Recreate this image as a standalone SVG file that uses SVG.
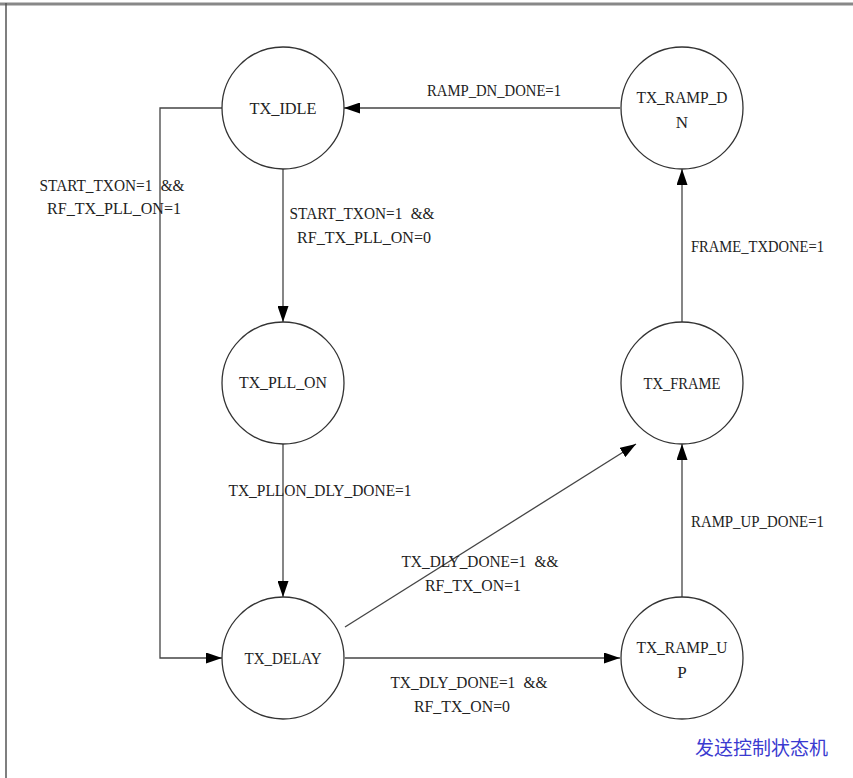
<svg xmlns="http://www.w3.org/2000/svg" width="853" height="778" viewBox="0 0 853 778">
<style>
.node circle{fill:#fff;stroke:#333;stroke-width:1.3}
.t{font-family:"Liberation Serif","DejaVu Serif",serif;font-size:17px;fill:#222}
.c{text-anchor:middle}
.ws{word-spacing:5px}
.edge{fill:none;stroke:#444;stroke-width:1.3}
.cap{font-family:"Noto Sans CJK SC","Noto Sans CJK JP",sans-serif;font-size:19px;fill:#3a3ad0}
</style>
<defs>
<marker id="ah" markerUnits="userSpaceOnUse" markerWidth="16" markerHeight="11" refX="16" refY="5.5" orient="auto">
<path d="M0,0 L16,5.5 L0,11 z" fill="#000"/>
</marker>
</defs>
<rect width="853" height="778" fill="#fff"/>
<line x1="0" y1="4" x2="853" y2="4" stroke="#888" stroke-width="3"/>
<line x1="6" y1="3" x2="6" y2="778" stroke="#555" stroke-width="1.5"/>
<g id="connectors">
<path class="edge" d="M620,108 L344,108" marker-end="url(#ah)"/>
<path class="edge" d="M283,169 L283,322" marker-end="url(#ah)"/>
<path class="edge" d="M222,108 L160,108 L160,658 L222,658" marker-end="url(#ah)"/>
<path class="edge" d="M283,444 L283,597" marker-end="url(#ah)"/>
<path class="edge" d="M345,627 L636,444" marker-end="url(#ah)"/>
<path class="edge" d="M345,658 L620,658" marker-end="url(#ah)"/>
<path class="edge" d="M682,597 L682,444" marker-end="url(#ah)"/>
<path class="edge" d="M682,322 L682,169" marker-end="url(#ah)"/>
<text class="t c" x="494" y="96" textLength="134" lengthAdjust="spacingAndGlyphs">RAMP_DN_DONE=1</text>
<text class="t c ws" x="362" y="219" textLength="145" lengthAdjust="spacingAndGlyphs">START_TXON=1 &amp;&amp;</text>
<text class="t c" x="364" y="243" textLength="134" lengthAdjust="spacingAndGlyphs">RF_TX_PLL_ON=0</text>
<text class="t c ws" x="112" y="191" textLength="145" lengthAdjust="spacingAndGlyphs">START_TXON=1 &amp;&amp;</text>
<text class="t c" x="114" y="214" textLength="134" lengthAdjust="spacingAndGlyphs">RF_TX_PLL_ON=1</text>
<text class="t c" x="320" y="496" textLength="183" lengthAdjust="spacingAndGlyphs">TX_PLLON_DLY_DONE=1</text>
<text class="t c ws" x="480" y="567" textLength="157" lengthAdjust="spacingAndGlyphs">TX_DLY_DONE=1 &amp;&amp;</text>
<text class="t c" x="473" y="591" textLength="96" lengthAdjust="spacingAndGlyphs">RF_TX_ON=1</text>
<text class="t c ws" x="469" y="688" textLength="157" lengthAdjust="spacingAndGlyphs">TX_DLY_DONE=1 &amp;&amp;</text>
<text class="t c" x="462" y="712" textLength="96" lengthAdjust="spacingAndGlyphs">RF_TX_ON=0</text>
<text class="t" x="691" y="252" textLength="133" lengthAdjust="spacingAndGlyphs">FRAME_TXDONE=1</text>
<text class="t" x="691" y="527" textLength="133" lengthAdjust="spacingAndGlyphs">RAMP_UP_DONE=1</text>
</g>
<g id="TX_IDLE" class="node"><circle cx="283" cy="108" r="61"/><text class="t c" x="283" y="114" textLength="67" lengthAdjust="spacingAndGlyphs">TX_IDLE</text></g>
<g id="TX_RAMP_DN" class="node"><circle cx="682" cy="108" r="61"/><text class="t c" x="682" y="103" textLength="91" lengthAdjust="spacingAndGlyphs">TX_RAMP_D</text><text class="t c" x="682" y="128">N</text></g>
<g id="TX_PLL_ON" class="node"><circle cx="283" cy="383" r="61"/><text class="t c" x="283" y="388" textLength="88" lengthAdjust="spacingAndGlyphs">TX_PLL_ON</text></g>
<g id="TX_FRAME" class="node"><circle cx="682" cy="383" r="61"/><text class="t c" x="682" y="389" textLength="77" lengthAdjust="spacingAndGlyphs">TX_FRAME</text></g>
<g id="TX_DELAY" class="node"><circle cx="283" cy="658" r="61"/><text class="t c" x="283" y="664" textLength="77" lengthAdjust="spacingAndGlyphs">TX_DELAY</text></g>
<g id="TX_RAMP_UP" class="node"><circle cx="682" cy="658" r="61"/><text class="t c" x="682" y="653" textLength="91" lengthAdjust="spacingAndGlyphs">TX_RAMP_U</text><text class="t c" x="682" y="678">P</text></g>
<text class="cap" x="695" y="755">发送控制状态机</text>
</svg>
